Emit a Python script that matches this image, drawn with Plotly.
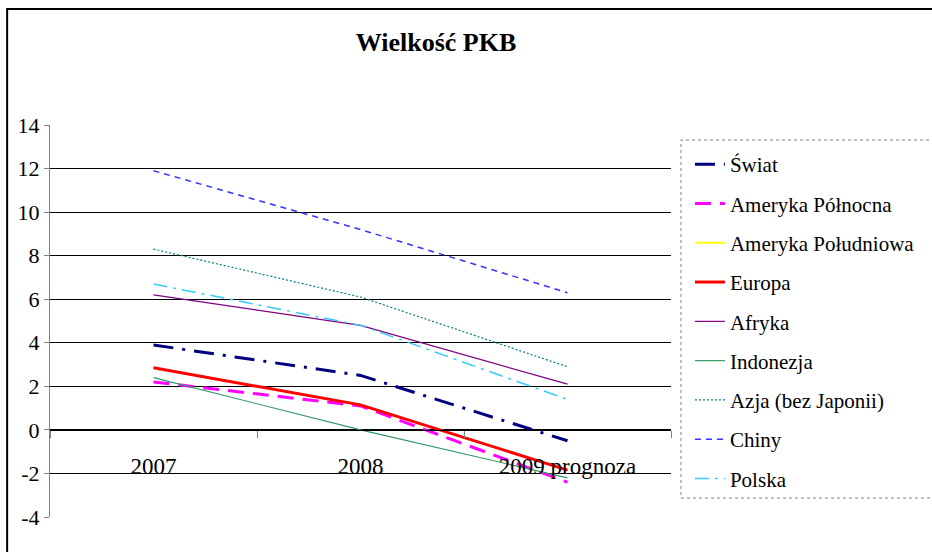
import plotly.graph_objects as go

categories = ["2007", "2008", "2009 prognoza"]
series_names = ["Świat", "Ameryka Północna", "Ameryka Południowa", "Europa", "Afryka",
                "Indonezja", "Azja (bez Japonii)", "Chiny", "Polska"]
swiat = [3.9, 2.5, -0.5]
ameryka_pn = [2.2, 1.1, -2.4]
ameryka_pd = [None, None, None]
europa = [2.85, 1.15, -1.85]
afryka = [6.2, 4.8, 2.1]
indonezja = [2.4, 0.0, -2.2]
azja = [8.3, 6.1, 2.9]
chiny = [11.9, 9.2, 6.3]
polska = [6.7, 4.8, 1.4]
y_ticks = [-4, -2, 0, 2, 4, 6, 8, 10, 12, 14]

values = [swiat, ameryka_pn, ameryka_pd, europa, afryka, indonezja, azja, chiny, polska]
styles = [
    dict(color="#000080", width=3, dash="20px,9px,3px,9px"),
    dict(color="#FF00FF", width=3, dash="16px,9px"),
    dict(color="#FFFF00", width=2, dash="solid"),
    dict(color="#FF0000", width=3, dash="solid"),
    dict(color="#800080", width=1.2, dash="solid"),
    dict(color="#339966", width=1.2, dash="solid"),
    dict(color="#008080", width=1.2, dash="2px,2px"),
    dict(color="#3333FF", width=1.5, dash="6px,5px"),
    dict(color="#33CCFF", width=1.5, dash="14px,6px,3px,6px"),
]

FONT = "Liberation Serif"

fig = go.Figure()
for i, (name, vals, st) in enumerate(zip(series_names, values, styles)):
    fig.add_trace(go.Scatter(
        x=categories, y=vals, name=name, mode="lines",
        line=st, legendgroup=name, connectgaps=False,
    ))

fig.update_layout(
    width=932, height=552,
    margin=dict(l=50, r=259, t=125, b=35),
    paper_bgcolor="white", plot_bgcolor="white",
    font=dict(family=FONT, color="black", size=21),
    title=dict(text="<b>Wielkość PKB</b>", x=436/932, xanchor="center",
               y=1 - 42/552, yanchor="middle", yref="container",
               font=dict(family=FONT, size=26, color="black")),
    showlegend=True,
    legend=dict(x=(692-50)/623, xanchor="left", y=(517-144)/392, yanchor="top",
                font=dict(family=FONT, size=21, color="black"),
                bgcolor="rgba(0,0,0,0)", borderwidth=0,
                tracegroupgap=9, traceorder="grouped", itemwidth=30),
    xaxis=dict(type="category", range=[-0.5, 2.5], anchor="free", position=4/18,
               showgrid=False, showline=True, linecolor="black", linewidth=1,
               ticks="outside", tickson="boundaries", ticklen=7, tickcolor="#808080",
               ticklabelstandoff=16,
               tickfont=dict(family=FONT, size=23, color="black"), zeroline=False),
    yaxis=dict(range=[-4, 14], tickvals=y_ticks, ticktext=[str(v) for v in y_ticks],
               showgrid=True, gridcolor="black",
               gridwidth=1, showline=True, linecolor="#808080", linewidth=1,
               ticks="outside", ticklen=5, tickcolor="#808080", zeroline=False,
               tickfont=dict(family=FONT, size=22, color="black")),
    shapes=[
        dict(type="rect", xref="paper", yref="paper",
             x0=(7-50)/623, x1=2.0, y0=-1.0, y1=(517-9)/392,
             line=dict(color="black", width=2), fillcolor="rgba(0,0,0,0)", layer="below"),
        dict(type="rect", xref="paper", yref="paper",
             x0=(683-50)/623, x1=2.0, y0=(517-498)/392, y1=(517-140)/392,
             line=dict(color="#808080", width=1, dash="dot"), fillcolor="rgba(0,0,0,0)"),
    ],
)

fig.write_html("out.html", post_script="document.body.style.margin='0';",
               config={"displayModeBar": False})
